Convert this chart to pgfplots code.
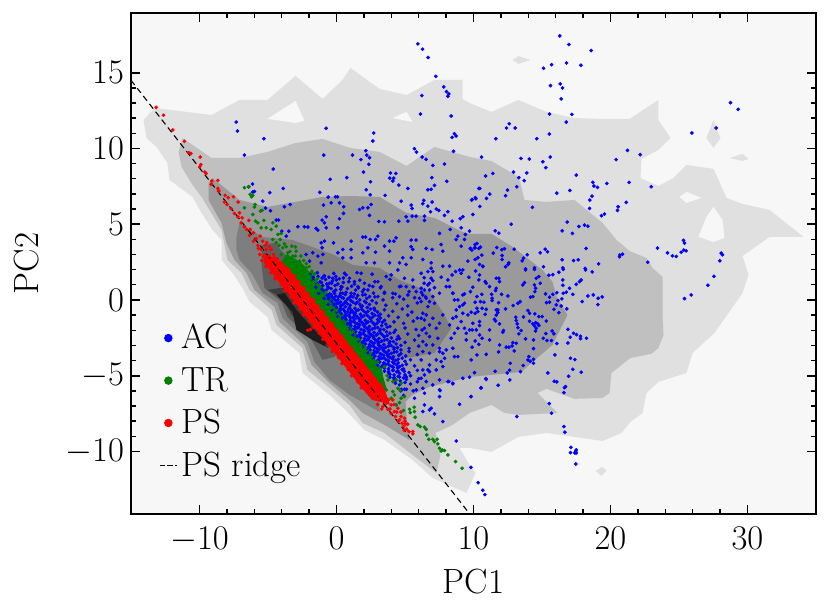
\documentclass[border=0pt]{standalone}
\usepackage{pgfplots}
\pgfplotsset{compat=1.18}

\definecolor{bgc}{HTML}{F7F7F7}
\definecolor{lv1}{HTML}{E0E0E0}
\definecolor{lv2}{HTML}{C0C0C0}
\definecolor{lv3}{HTML}{9A9A9A}
\definecolor{lv4}{HTML}{7E7E7E}
\definecolor{lv5}{HTML}{5E5E5E}
\definecolor{lv6}{HTML}{3D3D3D}
\definecolor{lv7}{HTML}{1C1C1C}
\definecolor{acblue}{HTML}{0000FF}
\definecolor{trgreen}{HTML}{008000}
\definecolor{psred}{HTML}{FF0000}

\pgfplotsset{
  pts/.style={only marks,color=#1,mark=*,mark size=0.8pt,mark options={draw=#1,fill=#1,line width=0.25pt}},
  lvl/.style={fill=#1,draw=none,forget plot},
  dotlegend/.style={legend image code/.code={\fill[#1] (4.25pt,0) circle (1.9pt);}},
}

\begin{document}
\begin{tikzpicture}
\useasboundingbox (-65.5pt,-50pt) rectangle (349pt,257pt);
\begin{axis}[
  scale only axis,width=342.5pt,height=250.5pt,
  xmin=-15,xmax=35,ymin=-14.13,ymax=18.94,
  xlabel={PC1},ylabel={PC2},
  xtick={-10,0,10,20,30},ytick={-10,-5,0,5,10,15},
  minor x tick num=4,minor y tick num=4,
  tick align=inside,xtick pos=both,ytick pos=both,
  major tick length=4.5pt,minor tick length=2.5pt,
  every tick/.style={black,line width=0.9pt},
  minor tick style={line width=0.7pt},
  axis line style={line width=1pt},
  axis background/.style={fill=bgc},
  tick label style={font=\fontsize{17.5}{20}\selectfont},
  xticklabel style={yshift=-3pt},
  label style={font=\fontsize{17.5}{20}\selectfont},
  xlabel style={yshift=-1.5pt},ylabel style={yshift=6.5pt},
  legend cell align=left,
  legend style={at={(axis cs:-13.4,-12.4)},anchor=south west,draw=none,fill=none,
    font=\fontsize{17.5}{20}\selectfont,row sep=3.6pt,
    /tikz/every even column/.append style={column sep=3pt}},
]
% outer contour level with its holes
\addplot[lvl=lv1] coordinates {(-14.09,11.88)(-13.28,12.67)(-9.12,12.21)(-7.08,13.20)(-5.04,13.20)(-2.99,14.79)(-1.02,13.27)(0.44,14.52)(1.02,15.31)(3.14,13.93)(5.11,13.53)(7.15,14.52)(9.20,14.52)(9.20,13.27)(9.71,13.0)(11.31,12.41)(13.28,13.2)(15.33,12.41)(17.30,12.01)(19.34,11.95)(21.39,11.95)(23.50,13.2)(23.50,11.88)(24.38,10.69)(23.50,9.90)(22.26,9.31)(22.19,8.05)(23.50,7.52)(24.60,8.05)(25.55,8.91)(27.52,8.65)(28.47,6.73)(29.64,6.34)(31.61,5.94)(34.09,4.16)(31.61,4.16)(29.64,2.90)(30.07,1.65)(29.64,0.46)(27.59,-2.18)(25.99,-3.50)(25.55,-4.82)(23.50,-5.41)(22.63,-6.14)(22.34,-7.46)(21.46,-8.05)(20.80,-8.78)(19.42,-9.31)(15.33,-8.78)(13.28,-9.04)(11.31,-10.03)(9.71,-9.77)(8.98,-9.77)(9.71,-10.89)(10.15,-11.42)(9.49,-12.74)(7.01,-11.75)(5.55,-10.56)(3.50,-9.24)(2.04,-8.58)(0.80,-7.39)(-0.51,-6.27)(-2.48,-4.82)(-2.70,-3.50)(-4.74,-1.98)(-5.04,-1.12)(-6.35,-0.13)(-6.86,0.79)(-7.59,1.78)(-8.39,2.64)(-8.39,3.96)(-9.05,4.62)(-9.85,5.74)(-10.51,6.80)(-12.19,7.92)(-12.34,9.04)(-13.14,10.10)(-13.87,10.69)} --cycle;
\addplot[lvl=bgc] coordinates {(-5.04,11.95)(-2.99,13.14)(-2.34,11.82)(-2.99,11.68)} --cycle;
\addplot[lvl=bgc] coordinates {(4.09,12.01)(5.11,12.41)(5.55,11.75)} --cycle;
\addplot[lvl=bgc] coordinates {(25.04,6.80)(25.55,7.13)(26.64,6.73)(25.55,6.40)} --cycle;
\addplot[lvl=bgc] coordinates {(26.42,4.16)(27.0,5.48)(27.52,6.14)(28.18,5.28)(28.32,4.09)(27.52,3.83)} --cycle;
\addplot[lvl=lv1] coordinates {(12.85,15.84)(13.28,16.1)(14.16,15.84)(13.28,15.58)} --cycle;
\addplot[lvl=lv1] coordinates {(27.0,10.69)(27.52,11.88)(28.03,10.69)(27.52,10.03)} --cycle;
\addplot[lvl=lv1] coordinates {(28.69,9.37)(29.64,9.64)(30.07,9.31)(29.64,9.17)} --cycle;
\addplot[lvl=lv1] coordinates {(18.91,-11.29)(19.42,-11.02)(19.71,-11.29)(19.34,-11.62)} --cycle;
% inner contour levels
\addplot[lvl=lv2] coordinates {(-11.53,9.77)(-11.24,10.69)(-9.12,9.37)(-7.08,9.37)(-5.04,9.77)(-2.99,10.36)(-1.02,10.63)(1.02,10.03)(3.14,9.77)(5.11,8.84)(7.15,10.10)(9.20,9.57)(9.71,9.44)(11.31,9.17)(13.28,8.12)(13.50,7.46)(13.72,6.60)(15.33,6.47)(17.37,6.60)(19.42,5.08)(20.44,3.96)(21.39,3.23)(22.63,2.77)(23.07,2.11)(23.80,1.52)(23.80,-1.12)(23.87,-2.31)(23.50,-3.17)(22.99,-3.56)(21.46,-3.83)(20.07,-4.82)(19.93,-6.14)(19.42,-6.47)(17.37,-6.53)(15.33,-5.87)(14.67,-6.14)(16.13,-7.46)(13.28,-7.59)(12.26,-7.46)(11.31,-6.93)(9.71,-7.46)(8.47,-8.25)(7.23,-8.78)(7.59,-10.23)(7.30,-11.42)(5.55,-10.23)(3.50,-8.78)(1.90,-8.12)(0.95,-6.93)(-0.51,-5.81)(-2.12,-4.62)(-2.48,-3.17)(-4.38,-1.65)(-4.74,-0.66)(-6.35,0.66)(-6.93,1.78)(-7.96,2.64)(-8.39,4.62)(-9.85,6.80)(-10.51,7.59)(-11.31,8.78)} --cycle;
\addplot[lvl=lv3] coordinates {(-9.05,8.05)(-7.08,6.60)(-5.04,6.14)(-2.99,6.47)(-1.02,6.80)(1.02,6.86)(3.14,6.80)(5.11,5.74)(7.15,5.41)(9.20,4.49)(9.71,4.36)(11.31,4.36)(12.85,3.50)(15.04,1.98)(15.77,1.19)(16.06,0.20)(16.86,-0.99)(15.77,-2.97)(14.31,-4.09)(13.50,-4.75)(11.31,-4.95)(9.71,-5.08)(8.25,-5.41)(6.79,-5.74)(5.55,-6.27)(5.04,-6.73)(5.18,-8.38)(5.33,-9.24)(3.50,-8.25)(1.90,-7.46)(0.95,-6.60)(-0.51,-5.48)(-1.82,-4.29)(-2.34,-2.97)(-4.16,-1.45)(-4.53,-0.46)(-5.99,0.66)(-6.57,1.78)(-7.45,2.64)(-8.03,3.76)(-8.39,5.08)(-9.34,6.60)(-9.34,7.72)} --cycle;
\addplot[lvl=lv4] coordinates {(-7.08,5.08)(-5.40,4.16)(-3.21,3.96)(-0.15,2.97)(1.17,2.31)(3.14,2.11)(4.60,1.32)(6.79,0.53)(7.74,-0.79)(8.39,-1.85)(7.15,-3.50)(4.38,-3.96)(3.28,-3.96)(3.14,-6.80)(3.14,-7.39)(0.95,-6.27)(-0.51,-5.28)(-1.61,-4.09)(-2.12,-2.77)(-3.94,-1.19)(-4.31,-0.20)(-5.40,0.46)(-6.20,1.78)(-7.08,2.64)(-7.30,3.30)(-7.30,4.16)} --cycle;
\addplot[lvl=lv5] coordinates {(-5.47,3.63)(-5.47,2.31)(-5.40,1.78)(-5.26,0.79)(-4.01,-0.13)(-3.58,-1.12)(-1.82,-2.64)(-1.02,-3.96)(-0.15,-3.76)(0.58,-2.97)(0.58,-1.32)(-2.70,1.98)(-4.53,3.76)} --cycle;
\addplot[lvl=lv6] coordinates {(-5.04,0.66)(-3.94,0.13)(-3.28,-0.99)(-1.61,-2.64)(-0.66,-3.17)(0.22,-2.31)(-2.70,0.99)} --cycle;
\addplot[lvl=lv7] coordinates {(-4.38,0.33)(-3.80,0.46)(-2.92,-0.66)(-1.97,-1.65)(-0.73,-2.84)(-0.88,-3.04)(-1.75,-2.64)(-2.92,-1.98)(-3.21,-0.79)} --cycle;

% AC
\addplot[pts=acblue,dotlegend=acblue] coordinates {
(-7.32,11.74)(-7.23,11.15)(-5.30,10.64)(-6.72,9.56)(-4.62,8.64)(-6.13,7.65)(-6.42,7.47)(-5.99,7.16)(-6.11,7.12)(-4.87,7.08)(-3.89,7.36)(-5.38,6.52)(-5.18,6.06)(-4.82,5.89)(-3.80,6.15)(-3.38,6.30)(-4.40,5.27)(-4.23,5.27)(-3.99,4.54)(-3.67,4.21)(-3.48,4.54)(-2.82,4.83)(-2.34,4.83)(-2.09,4.81)(-1.49,4.72)(-1.36,4.61)(-1.05,5.27)(-0.75,5.49)(-0.88,5.09)(-0.75,4.76)(0.22,5.36)(0.10,4.76)(0.53,6.15)(0.51,5.71)(-0.76,11.33)(-0.93,9.56)(-0.46,7.96)(-1.22,7.10)(-0.61,6.79)(-0.07,6.81)(0.07,6.81)(-0.39,6.41)(0.22,6.41)(-0.95,6.26)(1.17,9.56)(0.75,8.07)(1.78,9.26)(2.14,9.85)(2.21,9.56)(2.41,9.39)(2.36,8.95)(2.72,11.02)(2.65,10.49)(1.97,8.44)(2.48,7.80)(2.17,7.27)(2.46,6.94)(2.53,6.30)(3.55,6.90)(3.94,8.38)(4.33,8.35)(3.89,8.04)(4.18,8.04)(4.11,7.85)(4.55,7.58)(5.21,7.36)(5.69,9.98)(5.84,9.76)(6.25,9.43)(6.54,9.28)(7.03,8.88)(7.88,8.97)(6.96,8.07)(7.15,7.56)(8.05,7.83)(6.91,7.30)(6.67,7.27)(5.94,16.90)(6.28,16.55)(6.69,16.00)(7.25,14.76)(7.83,14.06)(8.03,13.75)(8.20,13.60)(8.13,13.44)(6.23,13.49)(6.13,12.27)(8.37,12.14)(8.61,10.97)(8.73,10.82)(8.44,10.73)(8.54,9.81)(9.90,6.63)(10.39,7.36)(10.14,6.75)(4.72,6.52)(5.45,6.26)(5.52,6.04)(6.37,6.57)(6.30,6.35)(6.98,6.46)(6.67,6.19)(6.86,5.82)(7.28,6.0)(7.47,5.91)(7.88,5.58)(8.13,5.82)(8.44,5.20)(9.03,5.36)(9.22,5.49)(1.68,5.97)(1.92,6.08)(2.29,6.08)(2.41,5.58)(3.09,5.18)(3.50,5.16)(4.55,5.20)(5.08,5.49)(5.52,5.53)(5.81,5.53)(6.42,5.53)(6.42,5.25)(5.21,5.20)(7.52,4.39)(8.30,4.65)(9.10,4.76)(8.86,4.21)(9.41,4.32)(9.71,4.54)
(1.92,4.15)(2.12,4.15)(2.46,3.99)(3.02,4.21)(2.85,3.99)(4.35,4.10)(3.87,3.88)(3.50,3.55)(4.19,3.88)(5.45,3.95)(5.81,3.95)(5.45,3.51)(5.57,3.33)(6.54,3.40)(6.98,3.33)(7.64,3.66)(7.76,3.22)(8.73,3.99)(9.10,3.55)(9.34,3.99)(9.76,3.38)(10.08,3.44)(0.46,3.33)(1.07,3.88)(1.07,3.33)(-0.22,3.77)(-1.12,3.77)(-0.88,3.88)(-1.05,3.44)(0.10,3.11)(1.92,3.11)(2.85,3.15)(2.29,3.44)(3.87,3.22)(4.84,2.78)(5.45,2.78)(6.30,2.67)(6.91,2.45)(7.76,2.23)(8.25,2.23)(9.59,2.56)(10.44,2.34)(-2.22,3.0)(-1.73,3.11)(-1.36,2.89)(-1.0,3.0)(-1.97,2.56)(-1.12,2.45)(0.46,2.78)(1.07,2.78)(2.17,2.45)(2.77,2.45)(3.87,2.45)(4.6,2.45)(5.08,2.34)
(16.30,17.43)(16.96,16.86)(18.59,16.46)(15.11,15.29)(15.70,15.53)(16.79,15.64)(17.84,15.49)(15.62,14.15)(16.33,14.26)(16.50,13.99)(16.40,13.27)(15.55,12.27)(17.18,12.25)(16.77,11.74)(12.61,11.63)(12.41,11.35)(13.04,11.35)(11.63,10.64)(14.62,10.64)(15.53,10.95)(10.59,9.43)(13.46,9.34)(14.07,9.30)(15.60,9.43)(15.06,9.12)(15.28,8.73)(12.92,8.44)(13.89,8.38)(11.41,8.35)(10.88,8.18)(13.31,8.07)(13.70,7.87)(17.50,8.24)(13.16,7.47)(10.46,7.36)(12.48,7.25)(11.19,6.99)(12.34,6.88)(10.95,6.70)(10.17,6.68)(9.86,6.59)(10.46,6.17)(9.95,5.64)(16.08,7.05)(17.03,7.23)(18.71,7.76)(18.79,7.52)(19.05,7.43)(19.73,7.69)(21.36,7.76)(22.97,7.47)(20.41,9.26)(21.24,9.87)(22.17,9.59)(18.65,6.85)(18.49,6.59)(18.47,6.04)(21.15,6.44)(20.56,6.15)(20.51,5.91)(19.56,5.67)(19.34,5.56)(14.30,6.11)(12.75,5.0)(16.84,5.14)(16.47,4.56)(17.22,4.39)(17.69,4.85)(18.10,4.94)(18.35,4.87)(11.58,4.56)(11.85,4.41)(25.94,11.02)(27.71,11.35)(28.76,13.02)(29.32,12.58)(23.43,3.42)(24.16,3.11)(24.52,2.91)(24.80,2.87)(25.16,3.15)(25.33,3.93)(25.40,3.75)(25.35,3.29)(25.52,3.24)(28.08,3.09)(28.17,2.98)(27.98,2.58)(22.72,2.49)(18.22,3.40)(19.13,2.38)(20.68,2.96)(20.66,2.85)(20.88,3.02)(16.47,2.65)(17.30,2.60)(17.64,2.65)(14.87,3.11)(15.23,3.35)(15.40,3.18)(13.92,2.98)(13.65,2.76)(13.55,2.58)(12.97,3.35)(12.26,3.38)(12.07,3.31)(11.70,3.46)(11.44,3.09)(12.09,2.93)(12.09,2.67)(10.61,2.96)(10.51,3.49)(10.39,3.40)(10.25,3.73)(10.12,3.66)(10.12,3.44)(9.78,3.40)(9.88,3.29)(10.12,2.67)(10.32,2.78)(12.58,2.45)(12.53,2.34)(12.34,2.19)(10.68,2.23)(15.11,2.19)(16.52,2.12)(18.15,2.08)(13.80,2.05)(14.45,2.12)
(27.55,1.56)(27.11,0.97)(25.89,0.33)(25.40,0.09)(18.18,1.98)(18.66,1.85)(16.55,2.02)(16.23,1.83)(15.79,1.67)(15.50,1.63)(14.45,2.02)(13.80,1.98)(16.52,1.32)(17.86,1.32)(17.50,1.03)(17.74,1.21)(16.52,0.97)(17.01,0.77)(17.25,0.37)(16.77,0.51)(16.55,0.44)(16.08,0.48)(15.79,0.37)(18.35,0.26)(18.74,0.33)(19.39,0.20)(19.10,0.11)(19.08,-0.31)(17.93,-0.11)(16.45,0.07)(16.16,-0.04)(15.55,0.18)(15.26,0.40)(15.33,-0.18)(15.55,-0.15)(16.04,-0.33)(16.40,-0.40)(15.87,-0.62)(16.81,-0.59)(16.23,-0.84)(16.89,-1.94)(17.30,-2.20)(17.52,-2.29)(17.81,-2.40)(17.81,-2.55)(18.25,-2.53)(17.06,-2.46)(16.89,-2.84)(15.74,-2.05)(15.87,-2.24)(15.28,-2.22)(15.09,-2.53)(15.36,-2.68)(15.69,-2.68)(16.08,-2.88)(15.94,-3.63)(17.08,-3.85)(17.40,-3.94)(17.25,-4.58)(17.86,-4.77)(16.94,-5.04)(15.43,-4.82)(15.89,-5.37)(16.08,-5.41)(16.72,-5.72)(16.64,-5.79)(16.60,-6.12)(15.53,-6.84)(15.69,-7.48)(13.16,-7.70)(16.60,-8.36)(16.67,-8.73)(17.11,-9.73)(17.08,-10.08)(17.45,-9.99)(17.50,-9.90)(17.40,-10.10)(17.50,-10.10)(17.47,-10.83)(9.81,-11.05)(10.34,-12.06)(10.68,-12.56)(10.83,-12.85)(9.81,-6.38)(10.54,-5.81)(11.80,-5.63)(12.65,-5.28)(10.90,-5.19)(10.07,-4.80)(11.58,-4.71)(12.46,-4.82)(12.63,-4.64)(13.43,-4.73)(13.63,-4.33)(12.68,-4.18)(14.38,-4.18)(14.38,-3.92)(14.04,-3.74)(13.97,-3.96)(14.14,-4.05)(9.83,-3.96)(10.25,-3.63)(10.93,-3.59)(11.83,-3.43)(12.97,-3.37)(14.38,-3.21)(12.39,-3.12)(12.58,-3.12)(12.82,-3.04)(11.90,-2.97)(12.87,-2.82)(13.12,-2.86)(11.17,-2.64)(10.39,-2.93)(9.90,-3.12)(10.12,-2.71)(10.63,-2.53)(10.44,-2.31)(13.80,-2.57)(13.31,-2.24)(14.38,-2.64)(12.14,-2.13)(12.19,-2.02)(13.48,-2.02)(13.24,-1.83)(13.12,-1.36)(13.19,-1.58)(13.09,-1.14)(13.65,-1.12)(14.09,-1.41)(14.48,-0.92)(14.33,-1.58)(14.53,-1.50)(14.70,-1.58)(14.45,-1.72)(14.58,-1.87)(14.77,-1.69)(14.53,-2.05)(15.01,-1.10)(15.31,-1.39)(14.77,-1.10)(13.97,-0.70)(14.09,-0.88)(12.90,-0.37)(13.24,-0.22)(13.41,-0.11)(12.34,-0.59)(11.17,-1.98)(11.90,-1.58)(11.53,-1.28)(11.61,-1.39)(11.78,-0.84)(11.66,-0.66)(11.78,-0.66)(11.66,-1.0)(11.83,-0.18)(11.32,0.37)(11.36,0.11)(11.36,-0.04)(12.05,0.37)(12.51,0.26)(14.16,0.18)(14.33,0.22)(14.48,0.55)(14.53,0.77)(14.45,0.99)(14.87,1.10)(13.60,0.99)(13.72,1.14)(14.58,1.43)(14.77,1.54)(11.66,1.43)(11.85,1.43)(11.90,1.21)(11.66,0.77)(11.61,0.62)(11.17,0.88)(10.85,1.21)(10.93,1.10)(10.39,1.32)(10.15,1.91)(10.68,2.20)(10.44,1.65)(9.95,0.84)(10.61,0.37)(10.25,0.22)(10.12,-0.15)(10.51,-0.11)(10.76,-0.15)(9.78,0.55)(10.85,-0.95)(10.25,-0.55)(10.32,-0.77)(10.12,-0.88)(9.83,-0.81)(10.63,-0.55)(10.93,-0.62)(9.95,-1.54)(10.44,-1.43)(10.44,-1.69)(9.71,-1.98)(9.90,-1.98)(10.20,-1.98)
(6.30,0.33)(6.55,0.11)(6.18,-0.11)(6.79,-0.11)(7.15,-0.22)(6.67,-0.44)(7.76,-0.99)(6.30,-0.88)(6.55,-0.99)(6.18,-1.21)(6.42,-1.32)(6.79,-1.65)(7.03,-1.21)(7.52,-1.54)(7.28,-1.87)(6.42,-1.87)(6.25,-1.98)(6.55,-2.20)(6.79,-2.42)(6.30,-2.75)(6.55,-2.97)(7.03,-2.97)(7.40,-2.53)(7.52,-3.19)(6.30,-3.41)(6.79,-3.52)(7.52,-3.41)(7.76,-3.52)(8.01,-3.30)(8.37,-2.53)(8.25,-1.65)(8.61,-2.20)(8.49,-1.21)(8.49,-3.19)(8.61,-3.74)(8.86,-3.74)(7.89,-3.85)(7.64,-4.07)(7.28,-3.96)(6.79,-4.29)(6.18,-3.96)(6.30,-4.62)(6.67,-4.62)(6.79,-4.73)(6.42,-4.95)(7.28,-4.62)(7.76,-4.40)(7.52,-5.28)(8.13,-5.39)(8.49,-5.50)(6.55,-5.39)(7.03,-5.61)(6.30,-5.83)(6.42,-6.16)(7.52,-5.94)(7.52,-6.38)(9.22,-5.17)(9.71,-5.10)(10.93,-5.24)(10.56,-5.79)(9.83,-6.38)(6.18,-5.17)
(8.86,0)(9.22,-0.33)(8.98,-0.44)(8.61,0)(9.34,-0.22)(8.49,0.44)(9.22,0.33)(8.74,-1.10)(9.10,-1.43)(8.86,-1.87)(9.47,-2.20)(9.34,-1.87)(9.47,-2.64)(8.74,-0.66)(9.22,-0.88)(9.59,-0.99)
(8.69,1.87)(9.22,1.98)(8.98,1.98)(9.10,1.76)(6.67,1.87)(6.91,2.09)(7.03,1.87)(7.64,1.50)(8.44,1.65)(8.13,1.32)(6.40,1.47)(6.91,1.43)(7.03,1.28)(6.79,1.10)(6.67,0.99)(6.18,0.77)(6.42,0.66)(6.79,0.66)(7.15,0.81)(8.01,0.88)(8.25,0.88)(8.49,0.44)(7.52,0.44)(7.03,0.22)(9.34,0.40)(9.66,1.50)(6.2,0.5)(6.5,0.2)(6.4,1.1)
(-0.88,1.58)(-0.63,0.88)(-0.27,1.43)(-0.51,1.10)(-0.02,1.32)(0.34,0.88)(0.58,1.76)(0.95,1.43)(1.31,1.21)(1.56,0.88)(1.80,1.76)(2.04,1.10)(2.29,0.66)(2.65,0.88)(3.02,1.21)(3.26,0.88)(3.63,1.54)(3.99,1.65)(4.48,1.98)(4.96,1.43)(4.60,0.88)(5.09,0.88)(5.57,1.32)(6.18,1.76)(5.82,0.55)(-0.15,0.44)(0.46,0.44)(1.07,0.44)(1.92,0.33)(2.41,0.22)(3.02,0.22)(3.50,0.44)(4.11,0.44)(4.60,0.22)(5.21,0.33)(6.06,0.11)
(-1.9,1.7)(-1.4,1.8)(-0.9,1.6)(-0.2,1.75)(0.7,1.65)(1.5,1.8)(2.6,1.7)(-1.7,1.3)(-1.2,1.2)(-0.8,1.35)(-0.3,1.25)(0.2,1.4)(0.9,1.2)(1.7,1.3)(2.8,1.2)(3.9,1.35)(-1.5,0.85)(-1.0,0.95)(-0.6,0.8)(-0.1,0.95)(0.4,0.85)(1.1,0.9)(1.6,0.8)(2.4,0.95)(3.2,0.8)(4.7,0.9)(5.6,0.85)(-1.3,0.45)(-0.9,0.55)(-0.5,0.4)(-0.2,0.55)(0.3,0.45)(0.7,0.5)(1.3,0.4)(1.9,0.55)(2.7,0.45)(3.5,0.5)(4.3,0.4)(5.3,0.55)(-0.9,0.1)(-0.6,0.05)(-0.3,0.2)(0.1,0.0)(0.4,0.15)(0.8,0.05)(1.2,0.2)(1.7,0.0)(2.2,0.1)(2.8,0.2)(3.4,0.0)(4.1,0.15)(4.9,0.05)(5.7,0.15)(-0.6,-0.3)(-0.3,-0.35)(0.0,-0.25)(0.3,-0.4)(0.6,-0.2)(1.0,-0.35)(1.4,-0.25)(1.9,-0.4)(2.4,-0.3)(2.9,-0.2)(3.6,-0.35)(4.4,-0.25)(5.2,-0.4)(5.9,-0.2)(-0.3,-0.7)(0.0,-0.8)(0.3,-0.65)(0.6,-0.75)(0.9,-0.6)(1.2,-0.8)(1.6,-0.65)(2.0,-0.75)(2.5,-0.6)(3.0,-0.8)(3.5,-0.65)(4.1,-0.75)(4.8,-0.6)(5.5,-0.8)(0.1,-1.1)(0.4,-1.2)(0.7,-1.05)(1.0,-1.15)(1.3,-1.0)(1.6,-1.2)(2.0,-1.05)(2.4,-1.15)(2.8,-1.0)(3.2,-1.2)(3.8,-1.05)(4.5,-1.15)(5.2,-1.0)(5.9,-1.2)(0.5,-1.5)(0.8,-1.6)(1.1,-1.45)(1.4,-1.55)(1.7,-1.4)(2.0,-1.6)(2.3,-1.45)(2.7,-1.55)(3.1,-1.4)(3.6,-1.6)(4.2,-1.45)(4.9,-1.55)(5.6,-1.4)(0.9,-1.9)(1.2,-2.0)(1.5,-1.85)(1.8,-1.95)(2.1,-1.8)(2.4,-2.0)(2.8,-1.85)(3.2,-1.95)(3.7,-1.8)(4.3,-2.0)(5.0,-1.85)(5.8,-1.95)(1.2,-2.3)(1.5,-2.4)(1.8,-2.25)(2.1,-2.35)(2.4,-2.2)(2.7,-2.4)(3.0,-2.25)(3.4,-2.35)(3.9,-2.2)(4.5,-2.4)(5.2,-2.25)(6.0,-2.35)(1.6,-2.7)(1.9,-2.8)(2.2,-2.65)(2.5,-2.75)(2.8,-2.6)(3.1,-2.8)(3.5,-2.65)(3.9,-2.75)(4.4,-2.6)(5.0,-2.8)(5.7,-2.65)(1.9,-3.1)(2.2,-3.2)(2.5,-3.05)(2.8,-3.15)(3.1,-3.0)(3.4,-3.2)(3.8,-3.05)(4.2,-3.15)(4.7,-3.0)(5.3,-3.2)(6.0,-3.05)(2.3,-3.5)(2.6,-3.6)(2.9,-3.45)(3.2,-3.55)(3.5,-3.4)(3.8,-3.6)(4.2,-3.45)(4.7,-3.55)(5.3,-3.4)(5.9,-3.6)(2.7,-3.9)(3.0,-4.0)(3.3,-3.85)(3.6,-3.95)(3.9,-3.8)(4.3,-4.0)(4.8,-3.85)(5.4,-3.95)(3.0,-4.3)(3.3,-4.4)(3.6,-4.25)(3.9,-4.35)(4.2,-4.2)(4.6,-4.4)(5.1,-4.25)(5.7,-4.35)(3.5,-4.7)(3.8,-4.8)(4.1,-4.65)(4.4,-4.75)(4.8,-4.6)(5.3,-4.8)(5.9,-4.65)(3.9,-5.1)(4.2,-5.2)(4.5,-5.05)(4.9,-5.15)(5.4,-5.0)(6.0,-5.2)(4.3,-5.5)(4.6,-5.6)(5.0,-5.45)(5.4,-5.55)(5.9,-5.4)(5.1,-5.9)(4.7,-6.0)(5.6,-6.0)(4.9,-6.3)
(6.42,-6.93)(6.79,-7.26)(6.3,-7.37)(6.91,-7.15)(7.15,-7.52)(7.76,-8.03)(8.74,-9.31)(8.98,-6.89)(7.57,-5.98)(5.82,-5.94)(5.69,-6.49)(8.49,-5.54)(8.2,-5.39)(4.72,-5.9)(4.96,-5.9)
(-1.7,1.5)(-1.35,1.55)(-1.05,1.45)(-0.55,1.5)(-0.05,1.55)(0.5,1.45)(-1.4,1.05)(-1.1,1.15)(-0.7,1.05)(-0.35,1.1)(0.1,1.05)(0.5,1.15)(1.3,1.05)(-1.05,0.7)(-0.75,0.65)(-0.4,0.75)(-0.05,0.65)(0.3,0.7)(0.8,0.75)(1.4,0.65)(2.0,0.7)(-0.7,0.3)(-0.4,0.35)(-0.05,0.25)(0.25,0.3)(0.65,0.35)(1.05,0.25)(1.55,0.3)(2.1,0.35)(-0.35,-0.1)(-0.05,-0.05)(0.3,-0.15)(0.65,-0.1)(1.05,-0.05)(1.5,-0.15)(2.05,-0.1)(2.6,-0.05)(0,-0.5)(0.3,-0.55)(0.65,-0.45)(0.95,-0.5)(1.35,-0.55)(1.8,-0.45)(2.25,-0.5)(2.75,-0.55)(0.35,-0.9)(0.65,-0.95)(1.0,-0.85)(1.35,-0.9)(1.75,-0.95)(2.15,-0.85)(2.6,-0.9)(3.2,-0.95)(0.7,-1.3)(1.0,-1.35)(1.35,-1.25)(1.7,-1.3)(2.1,-1.35)(2.5,-1.25)(3.0,-1.3)(3.5,-1.35)(1.05,-1.7)(1.35,-1.75)(1.7,-1.65)(2.0,-1.7)(2.4,-1.75)(2.8,-1.65)(3.3,-1.7)(3.9,-1.75)(1.4,-2.1)(1.7,-2.15)(2.05,-2.05)(2.35,-2.1)(2.75,-2.15)(3.15,-2.05)(3.65,-2.1)(4.2,-2.15)(1.75,-2.5)(2.05,-2.55)(2.4,-2.45)(2.7,-2.5)(3.1,-2.55)(3.5,-2.45)(4.0,-2.5)(4.6,-2.55)(2.1,-2.9)(2.4,-2.95)(2.75,-2.85)(3.05,-2.9)(3.45,-2.95)(3.85,-2.85)(4.35,-2.9)(2.45,-3.3)(2.75,-3.35)(3.1,-3.25)(3.4,-3.3)(3.8,-3.35)(4.2,-3.25)(4.7,-3.3)(2.8,-3.7)(3.1,-3.75)(3.45,-3.65)(3.75,-3.7)(4.15,-3.75)(4.55,-3.65)(5.05,-3.7)(3.15,-4.1)(3.45,-4.15)(3.8,-4.05)(4.1,-4.1)(4.5,-4.15)(5.0,-4.05)(3.5,-4.5)(3.8,-4.55)(4.15,-4.45)(4.45,-4.5)(4.9,-4.55)(3.9,-4.9)(4.2,-4.95)(4.6,-4.85)(5.0,-4.95)(4.3,-5.3)(4.65,-5.35)(5.1,-5.25)
(-0.55,0.15)(-0.2,0.1)(0.15,0.2)(0.5,0.12)(0.95,0.15)(1.45,0.12)(-0.15,-0.3)(0.15,-0.22)(0.45,-0.32)(0.8,-0.25)(1.2,-0.15)(1.7,-0.28)(2.15,-0.18)(0.2,-0.72)(0.5,-0.62)(0.8,-0.8)(1.1,-0.68)(1.45,-0.72)(1.85,-0.62)(2.3,-0.75)(2.8,-0.68)(0.6,-1.12)(0.9,-1.02)(1.2,-1.18)(1.5,-1.08)(1.85,-1.12)(2.25,-1.02)(2.65,-1.12)(3.05,-1.05)(0.95,-1.52)(1.25,-1.42)(1.55,-1.58)(1.85,-1.48)(2.2,-1.52)(2.55,-1.42)(2.95,-1.55)(3.35,-1.48)(1.3,-1.92)(1.6,-1.82)(1.95,-2.0)(2.25,-1.9)(2.6,-1.92)(3.0,-1.82)(3.45,-1.95)(1.65,-2.32)(1.95,-2.22)(2.25,-2.4)(2.55,-2.3)(2.9,-2.32)(3.25,-2.22)(3.7,-2.35)(2.0,-2.72)(2.3,-2.62)(2.6,-2.8)(2.95,-2.7)(3.3,-2.72)(3.7,-2.62)(4.15,-2.75)(2.35,-3.12)(2.65,-3.02)(2.95,-3.2)(3.25,-3.1)(3.6,-3.12)(4.0,-3.02)(4.45,-3.15)(2.7,-3.52)(3.0,-3.42)(3.3,-3.6)(3.65,-3.5)(4.0,-3.52)(4.4,-3.42)(3.1,-3.92)(3.45,-3.82)(3.75,-3.98)(4.1,-3.9)(4.5,-3.92)(3.4,-4.3)(3.75,-4.22)(4.05,-4.38)(4.4,-4.3)(4.8,-4.32)(3.8,-4.72)(4.15,-4.65)(4.5,-4.7)(4.95,-4.72)(4.2,-5.12)(4.6,-5.08)(5.1,-5.1)
};
\addlegendentry{AC}
% the TR and PS clouds are saturated near the ridge: their solid cores are filled bands
\addplot[lvl=trgreen] coordinates {(-4.05,2.5)(-3.6,3.0)(-2.6,2.5)(-0.4,0.2)(2.3,-3.3)(3.2,-4.4)(3.7,-6.0)(3.15,-5.88)} --cycle;
% TR
\addplot[pts=trgreen,dotlegend=trgreen] coordinates {
(-6.72,7.41)(-6.40,7.47)(-6.30,6.97)(-6.2,6.81)(-6.11,6.90)(-5.94,6.30)(-5.99,6.13)(-6.72,6.08)(-5.55,5.86)(-5.43,5.91)(-6.11,5.64)(-5.91,5.20)(-5.74,5.09)(-5.30,5.25)(-5.50,4.76)(-5.13,4.76)(-4.65,5.09)(-4.77,4.65)(-4.40,4.87)(-4.28,4.32)(-4.65,3.99)(-4.04,4.39)(-4.40,3.77)(-4.11,3.99)(-3.92,3.44)(-3.67,3.51)(-3.26,3.55)(-3.55,3.11)(-3.19,2.89)(-2.95,3.22)(-2.70,2.56)(-4.04,3.00)(-3.19,2.34)(-2.46,2.23)(-2.70,2.12)(-2.22,2.12)
(-3.8,3.7)(-3.4,3.2)(-3.0,2.9)(-2.6,2.9)(-2.4,2.6)(-2.2,2.4)(-2.0,2.2)(-3.6,2.9)(-4.2,3.6)(-3.0,3.5)(-1.8,1.9)(-1.6,1.7)(-1.4,1.4)
(2.65,-4.73)(3.26,-4.84)(3.75,-5.28)(3.38,-5.5)(4.11,-5.39)(4.36,-5.28)(4.72,-5.5)(4.48,-5.83)(3.63,-5.94)(4.11,-6.05)(4.65,-5.98)(4.96,-6.38)(4.72,-6.49)(4.6,-6.78)(4.36,-6.93)(4.89,-7.30)(4.23,-6.27)(3.99,-6.49)(5.33,-7.22)(5.67,-7.08)(5.38,-7.44)(5.69,-7.37)(5.74,-7.74)(5.94,-8.25)(6.42,-8.40)(6.55,-8.54)(6.11,-8.36)(6.59,-8.91)(6.74,-9.20)(7.03,-9.20)(7.35,-9.20)(7.15,-9.35)(7.40,-9.50)(7.52,-9.79)(7.71,-9.90)(7.88,-9.94)(7.64,-9.97)(8.13,-10.23)(8.69,-10.67)(9.17,-11.11)
(-2.0,1.6)(-1.8,1.8)(-1.7,1.2)(-1.4,1.0)(-1.3,0.6)(-1.0,0.3)(-0.8,0.5)(-0.7,-0.1)(-0.4,-0.4)(-0.2,-0.8)(0,-0.7)(0.2,-1.2)(0.5,-1.5)(0.8,-1.9)(0.9,-2.2)(1.2,-2.1)(1.4,-2.7)(1.6,-2.6)(1.8,-3.1)(2.1,-3.2)(2.3,-3.7)(2.5,-3.5)(2.7,-4.0)(3.0,-4.1)(3.2,-4.6)(3.5,-4.4)(3.7,-5.0)
};
\addlegendentry{TR}
\addplot[lvl=psred] coordinates {(-5.3,2.46)(-5.25,3.1)(-3.9,2.46)(3.5,-5.88)(3.9,-6.9)(2.6,-6.6)(1.9,-5.88)} --cycle;
% PS
\addplot[pts=psred,dotlegend=psred] coordinates {
(-13.16,12.71)(-12.63,12.19)(-11.95,11.22)(-11.10,10.47)(-10.78,9.72)(-10.63,9.67)(-9.95,9.43)(-9.90,8.93)(-9.98,8.79)(-9.61,8.44)(-9.51,8.35)(-9.10,7.85)(-8.66,7.89)(-9.15,7.63)(-8.66,7.36)(-8.59,7.19)(-8.13,6.90)(-7.91,6.75)(-7.52,6.81)(-8.18,6.46)(-7.98,6.30)(-7.18,6.46)(-7.69,6.02)(-7.45,5.71)(-7.08,5.75)(-6.89,5.42)(-7.20,5.49)(-6.96,5.09)(-6.72,4.83)(-6.40,5.25)(-6.55,4.65)(-6.30,4.65)(-6.06,4.43)(-6.35,4.26)(-5.86,4.04)(-5.57,4.21)(-6.06,3.88)(-5.74,3.60)(-5.38,3.88)(-5.09,3.77)(-5.50,3.33)(-5.13,3.33)(-4.77,3.33)(-5.33,2.89)(-4.94,2.89)(-4.53,2.78)(-5.01,2.45)(-4.16,2.34)
(-5.6,3.0)(-5.7,3.4)(-5.2,3.6)(-4.9,3.5)(-5.45,2.6)(-4.6,3.0)(-4.3,2.7)
(-5.15,2.2)(-4.80,1.8)(-4.5,1.4)(-4.05,1.0)(-3.8,0.6)(-3.35,0.2)(-3.1,-0.2)(-2.65,-0.6)(-2.4,-1.0)(-1.95,-1.4)(-1.7,-1.8)(-1.25,-2.2)(-1.0,-2.6)(-0.55,-3.0)(-0.3,-3.4)(0.15,-3.8)(0.4,-4.2)(0.85,-4.6)(1.1,-5.0)(1.55,-5.4)(1.8,-5.8)
(-3.45,2.0)(-3.05,1.6)(-2.75,1.2)(-2.35,0.8)(-2.05,0.4)(-1.65,0)(-1.35,-0.4)(-0.95,-0.8)(-0.65,-1.2)(-0.25,-1.6)(0.05,-2.0)(0.45,-2.4)(0.7,-2.8)(1.1,-3.2)(1.4,-3.6)(1.8,-4.0)(2.1,-4.4)(2.5,-4.8)(2.8,-5.2)(3.2,-5.6)(3.45,-6.0)(-1.9,-1.95)(-2.1,-2.0)
(3.14,-6.49)(3.63,-6.82)(3.38,-7.04)(3.99,-6.93)(3.75,-7.22)(4.23,-7.37)(4.72,-7.70)(4.96,-7.81)(4.6,-7.92)(4.79,-8.14)(5.04,-8.18)(4.89,-8.36)(5.13,-8.54)(5.57,-8.69)(5.57,-8.84)(2.9,-6.16)(3.63,-6.49)(4.11,-6.6)(4.48,-7.15)(3.38,-6.27)
(3.0,-6.9)(3.3,-7.2)(3.55,-6.6)(3.9,-7.2)(4.0,-7.5)(4.3,-7.7)(4.4,-7.4)(4.5,-8.0)(4.7,-7.4)(5.0,-8.0)(5.2,-8.2)(4.2,-6.9)(3.8,-6.6)(5.3,-8.7)(4.95,-8.6)
};
\addlegendentry{PS}
\addplot[black,densely dashed,line width=0.55pt,
  legend image code/.code={\draw[black,dash pattern=on 2.6pt off 1.2pt,line width=0.55pt] (0,0) -- (8.5pt,0);}]
  coordinates {(-15,14.5)(9.7,-14.1)};
\addlegendentry{PS ridge}
\end{axis}
\end{tikzpicture}
\end{document}
